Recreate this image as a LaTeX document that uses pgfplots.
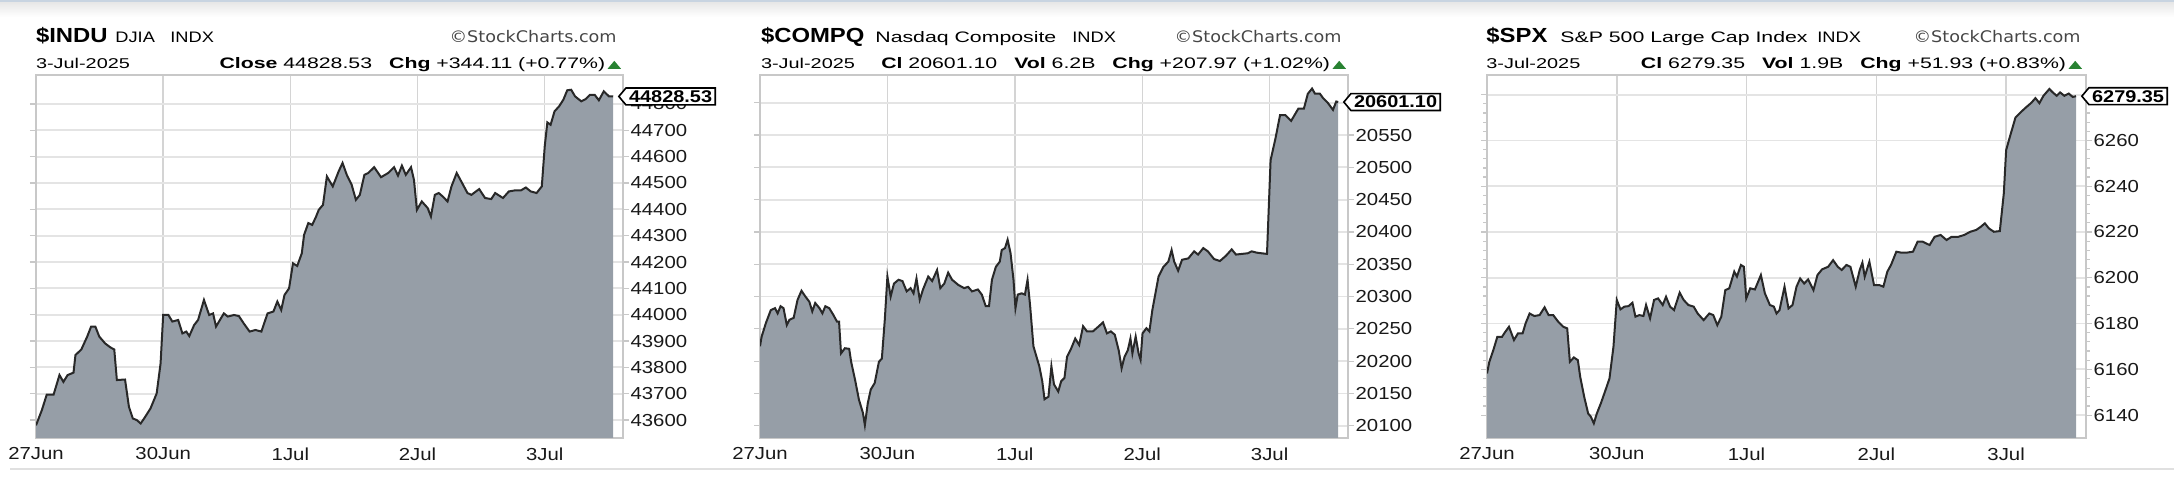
\documentclass[border=0pt]{standalone}
\usepackage{pgfplots}
\pgfplotsset{compat=1.18}
\usepackage{pgfplotstable}
\usepackage{fontspec}
\setmainfont[FakeStretch=1.17]{Liberation Sans}
\newfontfamily\capsfont[FakeStretch=1.2]{Liberation Sans}
\newfontfamily\widefont[FakeStretch=1.4]{Liberation Sans}
\newfontfamily\scfont[FakeStretch=1.1]{DejaVu Sans}
\usetikzlibrary{shapes.symbols}
\definecolor{areafill}{RGB}{150,158,167}
\definecolor{linecol}{RGB}{40,40,40}
\definecolor{gridh}{RGB}{228,228,228}
\definecolor{gridv}{RGB}{212,212,212}
\definecolor{boxcol}{RGB}{200,200,200}
\definecolor{tricol}{RGB}{40,130,50}
\definecolor{topblue}{RGB}{200,212,225}
\definecolor{sccol}{RGB}{70,70,70}

\pgfplotstableread{
m v
0 43580
18 43638
33 43697
54 43697
72 43771
84 43745
97 43771
115 43780
121 43847
139 43868
157 43917
169 43955
182 43955
194 43917
212 43891
228 43876
240 43868
248 43752
273 43754
285 43650
297 43606
309 43600
321 43587
333 43609
351 43644
370 43701
382 43815
390 43999
406 43999
418 43974
436 43980
449 43929
461 43936
470 43919
485 43961
497 43980
515 44056
531 43999
543 44005
552 43955
576 44005
588 43993
607 43999
622 43995
637 43967
655 43936
673 43942
691 43936
710 44005
728 44012
740 44050
752 44018
762 44075
776 44100
788 44195
801 44185
815 44233
822 44303
835 44348
847 44341
859 44373
867 44398
880 44417
892 44525
910 44487
928 44544
940 44576
953 44531
968 44493
981 44436
993 44455
1007 44531
1019 44538
1037 44560
1058 44522
1080 44538
1098 44560
1110 44528
1122 44566
1134 44531
1150 44560
1159 44512
1168 44398
1183 44430
1201 44405
1211 44373
1223 44455
1235 44462
1247 44449
1262 44430
1274 44487
1290 44538
1304 44506
1323 44462
1335 44455
1359 44477
1377 44443
1396 44439
1408 44462
1432 44443
1450 44468
1469 44472
1487 44472
1502 44483
1517 44468
1535 44462
1551 44487
1560 44639
1568 44730
1578 44721
1590 44772
1604 44791
1617 44816
1629 44852
1641 44854
1653 44829
1672 44810
1686 44819
1699 44835
1713 44835
1726 44814
1741 44848
1757 44829
1770 44828.53
}\dataA

\pgfplotstableread{
m v
0 20223
5 20238
18 20259
33 20279
46 20282
54 20274
63 20285
72 20282
82 20256
90 20264
103 20267
115 20295
127 20309
139 20300
151 20292
160 20277
169 20290
182 20282
191 20274
200 20285
212 20282
224 20272
236 20261
242 20261
248 20212
260 20220
273 20219
279 20199
291 20171
303 20140
315 20120
321 20101
330 20135
339 20156
351 20166
364 20199
373 20204
382 20264
390 20331
400 20300
410 20320
424 20326
436 20324
449 20308
461 20313
470 20305
479 20328
489 20295
499 20311
515 20331
527 20324
542 20341
552 20313
564 20320
576 20337
588 20326
607 20318
625 20313
637 20315
649 20308
667 20311
679 20303
691 20285
701 20285
710 20326
722 20346
734 20354
740 20372
750 20375
758 20388
767 20367
776 20326
782 20282
789 20303
801 20305
811 20303
819 20326
827 20285
837 20223
855 20192
864 20169
871 20141
883 20145
892 20192
900 20164
913 20153
922 20169
932 20174
940 20207
952 20219
965 20235
977 20225
989 20254
1001 20246
1019 20246
1037 20254
1050 20260
1062 20243
1074 20246
1086 20241
1098 20217
1107 20189
1116 20207
1126 20217
1134 20235
1140 20212
1150 20238
1159 20212
1165 20202
1171 20243
1183 20251
1192 20246
1201 20279
1220 20331
1235 20346
1250 20354
1260 20372
1268 20354
1280 20340
1292 20357
1311 20359
1329 20370
1341 20365
1357 20375
1371 20370
1390 20358
1408 20355
1426 20363
1444 20373
1457 20365
1475 20366
1493 20367
1505 20370
1520 20368
1535 20367
1552 20366
1563 20511
1578 20545
1592 20581
1608 20581
1626 20572
1648 20591
1665 20591
1677 20614
1690 20622
1699 20614
1714 20614
1724 20607
1738 20600
1754 20589
1764 20602
1770 20601.10
}\dataB

\pgfplotstableread{
m v
0 6158.2
7 6163.3
19 6168.4
31 6174.2
45 6174.2
55 6176.4
66 6178.6
81 6172.8
93 6175.7
107 6175.7
116 6180.1
128 6184.4
142 6183.3
158 6183.7
173 6187.1
185 6183.7
199 6183.7
214 6180.8
229 6178.6
241 6177.9
249 6163.3
261 6165.2
273 6164.0
280 6156.8
292 6148.0
304 6140.7
312 6139.3
321 6136.4
330 6140.7
342 6145.1
356 6150.9
368 6156.0
380 6169.9
390 6190.3
401 6186.2
413 6187.4
425 6187.6
437 6189.1
446 6183.0
458 6183.7
470 6183.3
478 6188.1
490 6182.3
502 6190.3
514 6191.0
528 6188.1
538 6191.7
550 6187.4
562 6185.9
579 6193.5
591 6190.3
605 6188.1
621 6187.4
633 6184.4
651 6181.5
668 6184.4
680 6183.7
692 6179.3
704 6183.0
716 6194.6
728 6195.4
743 6202.7
751 6200.5
763 6205.6
772 6204.8
779 6191.0
791 6195.4
805 6194.9
823 6201.2
835 6193.2
850 6188.1
862 6187.4
870 6184.4
879 6185.9
894 6196.1
906 6186.6
918 6188.1
930 6196.1
941 6199.7
953 6197.5
965 6199.3
981 6194.6
993 6201.2
1007 6203.7
1025 6204.8
1040 6207.7
1054 6204.8
1066 6203.4
1080 6205.6
1092 6204.8
1108 6196.1
1120 6203.4
1128 6206.6
1135 6200.5
1149 6207.0
1163 6196.8
1179 6196.8
1191 6196.1
1203 6202.7
1214 6205.6
1230 6211.4
1244 6211.0
1262 6211.0
1280 6211.4
1294 6215.8
1309 6215.8
1330 6214.3
1345 6217.9
1363 6218.7
1381 6216.5
1396 6217.9
1416 6217.9
1434 6218.7
1452 6220.1
1470 6220.9
1484 6222.3
1496 6223.8
1508 6221.6
1523 6220.1
1541 6220.4
1553 6236.9
1560 6255.8
1572 6262.0
1588 6270.0
1605 6272.5
1620 6274.5
1636 6276.5
1648 6278.5
1660 6276.3
1672 6279.5
1690 6282.5
1700 6281.0
1712 6279.5
1722 6281.0
1735 6279.5
1748 6280.5
1760 6279.0
1770 6279.35
}\dataC

\pgfplotsset{
  sc/.style={
    scale only axis,
    height=181.5pt,
    xmin=0, xmax=1800,
    xtick={0,390,780,1170,1560},
    xticklabels={27Jun,30Jun,1Jul,2Jul,3Jul},
    xtick align=inside,
    major x tick style={draw=none},
    ytick align=outside,
    yticklabel pos=right,
    major tick length=3pt,
    minor tick length=1.8pt,
    ytick style={draw=boxcol, line width=0.6pt},
    grid=major,
    x grid style={gridv, line width=0.7pt},
    y grid style={gridh, line width=0.9pt},
    axis line style={boxcol, line width=1pt},
    scaled y ticks=false,
    tick label style={font=\fontsize{8.7}{9}\selectfont, text=black!90},
    /pgf/number format/.cd, set thousands separator={}, fixed, precision=2, assume math mode=true,
    /pgfplots/.cd,
    yticklabel style={anchor=west, inner sep=0pt, xshift=0.6pt},
    xticklabel style={anchor=north, inner sep=0pt, yshift=-4.5pt},
    clip=true,
  }
}
\tikzset{
  valbox/.style={draw=black, fill=white, line width=0.8pt, signal, signal to=west,
    signal pointer angle=100, inner xsep=1.6pt, inner ysep=1.2pt,
    font=\bfseries\fontsize{8.5}{9}\selectfont, anchor=west},
  tl/.style={anchor=base west, inner sep=0pt},
  tr/.style={anchor=base east, inner sep=0pt},
}
\newcommand{\gap}{\hspace{8.5pt}}
\newcommand{\subf}{\widefont\fontsize{7.6}{9}\selectfont}
\newcommand{\capf}{\capsfont\fontsize{7.6}{9}\selectfont}
\newcommand{\datef}{\widefont\fontsize{7.1}{9}\selectfont}
\newcommand{\linef}{\widefont\fontsize{7.6}{9}\selectfont}
\newcommand{\titf}{\bfseries\fontsize{10.2}{12}\selectfont}

\begin{document}
\begin{tikzpicture}
\useasboundingbox (0,0) rectangle (1087pt,249pt);
% page decorations
\fill[topblue] (0,247.6pt) rectangle (1087pt,249pt);
\shade[top color=black!9, bottom color=white] (0,240.5pt) rectangle (1087pt,247.6pt);
\draw[black!12, line width=0.8pt] (5pt,14.5pt) -- (1087pt,14.5pt);

%---------------- Panel 1
\begin{axis}[sc, at={(18pt,30pt)}, anchor=south west, width=293.5pt,
  ymin=43532, ymax=44910, ytick={43600,43700,...,44800}]
\addplot[fill=areafill, draw=none] table[x=m,y=v]{\dataA} \closedcycle;
\addplot[linecol, line width=1pt] table[x=m,y=v]{\dataA};
\coordinate (e1) at (axis cs:1800,44828.53);
\end{axis}
\node[valbox] at ([xshift=-2.6pt]e1) {44828.53};
\node[tl] at (17.8pt,227.5pt) {\titf\$INDU};
\node[tl] at (57.5pt,227.5pt) {\capf DJIA};
\node[tl] at (85pt,227.5pt) {\capf INDX};
\node[tr, text=sccol] at (308.5pt,227.5pt) {\scfont\fontsize{8}{9}\selectfont ©StockCharts.com};
\node[tl] at (17.8pt,214.5pt) {\datef 3-Jul-2025};
\node[tr] at (302.8pt,214.5pt) {\linef \textbf{Close} 44828.53\gap\textbf{Chg} +344.11 (+0.77\%)};
\fill[tricol] (303.8pt,214.6pt) -- (310.5pt,214.6pt) -- (307.15pt,218.6pt) -- cycle;

%---------------- Panel 2
\begin{axis}[sc, at={(380pt,30pt)}, anchor=south west, width=294pt,
  ymin=20081, ymax=20643, ytick={20100,20150,...,20600}]
\addplot[fill=areafill, draw=none] table[x=m,y=v]{\dataB} \closedcycle;
\addplot[linecol, line width=1pt] table[x=m,y=v]{\dataB};
\coordinate (e2) at (axis cs:1800,20601.10);
\end{axis}
\node[valbox] at ([xshift=-2.6pt]e2) {20601.10};
\node[tl] at (380.3pt,227.5pt) {\titf\$COMPQ};
\node[tl] at (437.5pt,227.5pt) {\subf Nasdaq Composite};
\node[tl] at (536pt,227.5pt) {\capf INDX};
\node[tr, text=sccol] at (671pt,227.5pt) {\scfont\fontsize{8}{9}\selectfont ©StockCharts.com};
\node[tl] at (380.3pt,214.5pt) {\datef 3-Jul-2025};
\node[tr] at (665.25pt,214.5pt) {\linef \textbf{Cl} 20601.10\gap\textbf{Vol} 6.2B\gap\textbf{Chg} +207.97 (+1.02\%)};
\fill[tricol] (666.25pt,214.6pt) -- (673pt,214.6pt) -- (669.6pt,218.6pt) -- cycle;

%---------------- Panel 3
\begin{axis}[sc, at={(743.5pt,30pt)}, anchor=south west, width=299.5pt,
  ymin=6130, ymax=6288.6, ytick={6140,6160,...,6280}, minor y tick num=4]
\addplot[fill=areafill, draw=none] table[x=m,y=v]{\dataC} \closedcycle;
\addplot[linecol, line width=1pt] table[x=m,y=v]{\dataC};
\coordinate (e3) at (axis cs:1800,6279.35);
\end{axis}
\node[valbox] at ([xshift=-2.6pt]e3) {6279.35};
\node[tl] at (743pt,227.5pt) {\titf\$SPX};
\node[tl] at (780pt,227.5pt) {\subf S\&P 500 Large Cap Index};
\node[tl] at (908.5pt,227.5pt) {\capf INDX};
\node[tr, text=sccol] at (1040.5pt,227.5pt) {\scfont\fontsize{8}{9}\selectfont ©StockCharts.com};
\node[tl] at (743pt,214.5pt) {\datef 3-Jul-2025};
\node[tr] at (1033.25pt,214.5pt) {\linef \textbf{Cl} 6279.35\gap\textbf{Vol} 1.9B\gap\textbf{Chg} +51.93 (+0.83\%)};
\fill[tricol] (1034.25pt,214.6pt) -- (1041pt,214.6pt) -- (1037.6pt,218.6pt) -- cycle;
\end{tikzpicture}
\end{document}
